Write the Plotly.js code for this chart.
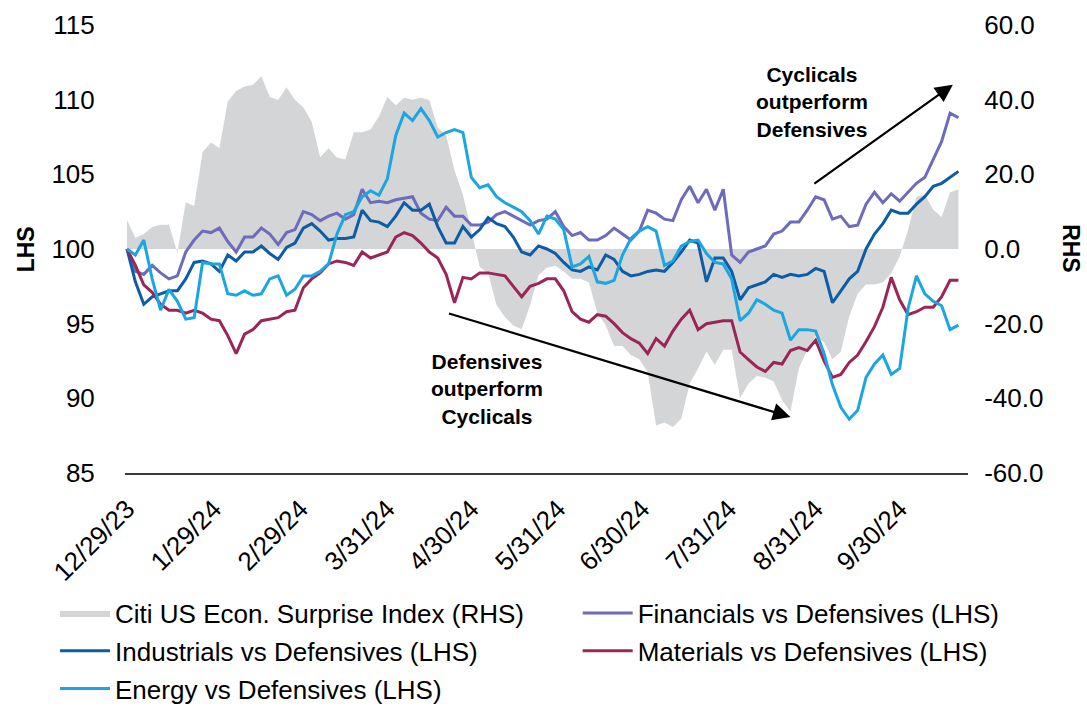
<!DOCTYPE html>
<html>
<head>
<meta charset="utf-8">
<script src="https://cdn.plot.ly/plotly-3.0.1.min.js"></script>
<style>html,body{margin:0;padding:0;background:#fff;}#chart{width:1087px;height:709px;}</style>
</head>
<body>
<div id="chart"></div>
<script>
const dates = ["2023-12-29","2024-01-01","2024-01-04","2024-01-07","2024-01-10","2024-01-13","2024-01-16","2024-01-19","2024-01-22","2024-01-25",
"2024-01-28","2024-01-31","2024-02-03","2024-02-06","2024-02-09","2024-02-12","2024-02-15","2024-02-18","2024-02-21","2024-02-24",
"2024-02-27","2024-03-01","2024-03-04","2024-03-07","2024-03-10","2024-03-13","2024-03-16","2024-03-19","2024-03-22","2024-03-25",
"2024-03-28","2024-03-31","2024-04-03","2024-04-06","2024-04-09","2024-04-12","2024-04-15","2024-04-18","2024-04-21","2024-04-24",
"2024-04-27","2024-04-30","2024-05-03","2024-05-06","2024-05-09","2024-05-12","2024-05-15","2024-05-18","2024-05-21","2024-05-24",
"2024-05-27","2024-05-30","2024-06-02","2024-06-05","2024-06-08","2024-06-11","2024-06-14","2024-06-17","2024-06-20","2024-06-23",
"2024-06-26","2024-06-29","2024-07-02","2024-07-05","2024-07-08","2024-07-11","2024-07-14","2024-07-17","2024-07-20","2024-07-23",
"2024-07-26","2024-07-29","2024-08-01","2024-08-04","2024-08-07","2024-08-10","2024-08-13","2024-08-16","2024-08-19","2024-08-22",
"2024-08-25","2024-08-28","2024-08-31","2024-09-03","2024-09-06","2024-09-09","2024-09-12","2024-09-15","2024-09-18","2024-09-21",
"2024-09-24","2024-09-27","2024-09-30","2024-10-03","2024-10-06","2024-10-09","2024-10-12","2024-10-15","2024-10-18","2024-10-21"];

const citiSurprise = [7.8,3,4,5.9,6.5,6.5,-1,12.5,11.5,26,
28.5,27,39.5,42.3,43.5,44,46.3,40.7,39.9,43.3,
40,38,34,24.6,27,24.5,24,31.3,31.3,32,
35.5,40.7,38.5,40.5,40,40.5,39.9,32.5,30.5,21,
14.5,5,-4.8,-6.5,-15,-18.2,-20.5,-21.5,-15,-7,
-5,-4.5,-6,-8,-8,-9,-17,-20.5,-26,-26,
-28.4,-29.5,-33,-47.3,-46.5,-47.7,-45.5,-36,-32,-27.5,
-31,-27,-27,-40,-36,-34,-34.5,-35.5,-40.5,-43.5,
-32,-27,-23.3,-25,-29.5,-27.5,-18,-12,-9.5,-9.5,
-9,-6.5,-2,5,14,14.5,10.5,8.6,15.2,16];

const financials = [100,98.5,98.3,98.9,98.4,98.0,98.2,99.8,100.6,101.2,
101.1,101.4,100.5,99.8,100.8,100.8,101.4,101.0,100.3,101.1,
101.3,102.5,102.3,101.9,102.2,102.4,102.0,102.3,104.0,103.1,
103.2,103.1,103.3,103.4,103.5,102.4,102.0,101.9,102.8,102.2,
102.2,101.6,101.6,101.8,102.3,102.5,102.2,101.9,101.6,101.9,
102.0,102.5,101.5,100.9,101.1,100.6,100.6,100.9,101.4,101.0,
100.6,101.2,102.6,102.4,102.0,101.9,103.3,104.2,103.1,104.0,
102.6,104.0,99.6,99.1,99.8,100.0,100.2,101.0,101.2,101.8,
101.8,102.6,103.5,103.3,102.0,102.2,101.5,101.6,103.0,103.8,
103.1,103.7,103.2,103.8,104.4,104.8,106.0,107.2,109.1,108.8];

const industrials = [100,97.8,96.3,96.8,97.0,97.2,97.2,98.0,99.1,99.2,
99.0,98.5,99.6,99.2,99.8,99.8,100.2,99.7,99.3,100.1,
100.4,101.4,101.7,101.2,100.6,100.7,100.7,100.8,102.6,101.9,
101.8,101.5,102.2,103.1,102.6,102.6,103.0,101.5,100.4,100.4,
101.5,100.8,101.3,102.1,101.7,101.5,100.8,99.8,99.6,100.2,
100.0,99.7,99.1,98.6,98.5,98.8,98.6,99.6,99.3,98.5,
98.2,98.3,98.5,98.6,98.5,99.1,99.8,100.6,100.4,97.8,
99.4,99.4,98.5,96.6,97.4,97.6,97.8,98.3,98.1,98.3,
98.2,98.3,98.7,98.5,96.4,97.2,98.0,98.5,100.0,101.0,
101.7,102.6,102.4,102.4,103.0,103.5,104.2,104.4,104.8,105.2];

const materials = [100,98.9,97.6,97.1,96.3,95.9,95.9,95.7,95.9,95.7,
95.3,95.2,94.2,93.0,94.3,94.6,95.2,95.3,95.4,95.8,
95.9,97.4,98.0,98.4,99.0,99.2,99.1,98.9,99.8,99.4,
99.6,99.8,100.8,101.1,100.9,100.4,99.8,99.4,98.3,96.4,
98.1,98.0,98.4,98.4,98.3,98.2,97.5,96.8,97.5,97.7,
98.0,98.0,97.2,95.8,95.3,95.1,95.6,95.5,95.0,94.4,
94.0,93.7,93.0,94.0,93.5,94.5,95.3,95.9,94.6,95.0,
95.1,95.2,95.2,93.1,92.6,92.1,91.8,92.4,92.3,93.2,
93.4,93.2,93.9,92.5,91.4,91.6,92.4,92.9,93.8,94.8,
96.1,98.1,96.6,95.6,95.8,96.1,96.1,96.8,97.9,97.9];

const energy = [100,99.6,100.6,98.0,95.9,97.3,96.5,95.3,95.4,99.1,
99.0,99.0,97.0,96.9,97.2,96.9,97.0,98.0,98.2,96.9,
97.3,98.2,98.2,98.5,99.0,101.0,102.3,102.5,103.5,103.9,
103.6,104.7,107.6,109.1,108.6,109.4,108.6,107.5,107.8,108.0,
107.8,104.8,104.1,104.3,103.5,103.1,102.8,102.5,101.9,101.0,
102.2,102.0,101.3,98.8,99.0,99.5,97.8,97.7,97.9,99.6,
100.7,101.2,101.5,101.2,98.9,99.2,100.2,100.5,100.6,99.7,
99.1,99.0,98.0,95.2,95.7,96.6,96.3,95.9,95.7,93.9,
94.6,94.6,94.5,93.0,90.9,89.4,88.6,89.2,91.4,92.3,
92.9,91.6,92.0,96.0,98.2,97.0,96.5,96.2,94.6,94.9];

const tickDates = ["2023-12-29","2024-01-29","2024-02-29","2024-03-31","2024-04-30","2024-05-31","2024-06-30","2024-07-31","2024-08-31","2024-09-30"];
const tickLabels = ["12/29/23","1/29/24","2/29/24","3/31/24","4/30/24","5/31/24","6/30/24","7/31/24","8/31/24","9/30/24"];
const lhsTicks = [85,90,95,100,105,110,115];
const rhsTicks = [-60,-40,-20,0,20,40,60];
const rhsLabels = ["-60.0","-40.0","-20.0","0.0","20.0","40.0","60.0"];

const FONT = 'Liberation Sans, Arial, Helvetica, sans-serif';
const FS = 26;
const lw = 3;

// primary y = RHS (drawn first, behind); y2 = LHS lines (overlaying, on top)
const traces = [
  {x:dates, y:citiSurprise, name:'Citi US Econ. Surprise Index (RHS)', type:'scatter', mode:'lines',
   fill:'tozeroy', fillcolor:'#d4d5d7', line:{width:0, color:'#d4d5d7'}, yaxis:'y', legend:'legend', legendgroup:'g1'},
  {x:dates, y:financials, name:'Financials vs Defensives (LHS)', type:'scatter', mode:'lines',
   line:{width:lw, color:'#6e6bbd'}, yaxis:'y2', legend:'legend2', legendgroup:'g2'},
  {x:dates, y:industrials, name:'Industrials vs Defensives (LHS)', type:'scatter', mode:'lines',
   line:{width:lw, color:'#0d5ca6'}, yaxis:'y2', legend:'legend', legendgroup:'g3'},
  {x:dates, y:materials, name:'Materials vs Defensives (LHS)', type:'scatter', mode:'lines',
   line:{width:lw, color:'#9c2558'}, yaxis:'y2', legend:'legend2', legendgroup:'g4'},
  {x:dates, y:energy, name:'Energy vs Defensives (LHS)', type:'scatter', mode:'lines',
   line:{width:lw, color:'#1aa6e0'}, yaxis:'y2', legend:'legend', legendgroup:'g5'}
];

const layout = {
  width:1087, height:709,
  margin:{l:125, r:119, t:25, b:236, pad:0, autoexpand:false},
  paper_bgcolor:'#ffffff', plot_bgcolor:'#ffffff',
  font:{family:FONT, size:FS, color:'#000'},
  showlegend:true,
  hovermode:false,
  xaxis:{type:'date', range:['2023-12-28 07:00','2024-10-24 10:00'],
    tickvals:tickDates, ticktext:tickLabels, tickangle:-45,
    showgrid:false, zeroline:false, showline:true, linecolor:'#3a3a3a', linewidth:1.5,
    ticks:'outside', ticklen:9, tickcolor:'rgba(0,0,0,0)', tickfont:{size:FS, family:FONT}},
  yaxis:{range:[-60,60], side:'right', tickvals:rhsTicks, ticktext:rhsLabels,
    showgrid:false, zeroline:false, showline:false,
    ticks:'outside', ticklen:10, tickcolor:'rgba(0,0,0,0)', tickfont:{size:FS, family:FONT}},
  yaxis2:{range:[85,115], overlaying:'y', side:'left', tickvals:lhsTicks,
    showgrid:false, zeroline:false, showline:false,
    ticks:'outside', ticklen:24, tickcolor:'rgba(0,0,0,0)', tickfont:{size:FS, family:FONT}},
  legend:{orientation:'v', x:-0.083, xanchor:'left', y:-0.26, yanchor:'top',
    bgcolor:'rgba(0,0,0,0)', font:{size:FS, family:FONT}, itemwidth:50, tracegroupgap:1},
  legend2:{orientation:'v', x:0.537, xanchor:'left', y:-0.26, yanchor:'top',
    bgcolor:'rgba(0,0,0,0)', font:{size:FS, family:FONT}, itemwidth:50, tracegroupgap:1},
  annotations:[
    {xref:'paper', yref:'paper', x:-0.117, y:0.5, text:'<b>LHS</b>', textangle:-90, showarrow:false,
     font:{size:23, family:FONT}, xanchor:'center', yanchor:'middle'},
    {xref:'paper', yref:'paper', x:1.122, y:0.5, text:'<b>RHS</b>', textangle:90, showarrow:false,
     font:{size:23, family:FONT}, xanchor:'center', yanchor:'middle'},
    {xref:'x', yref:'y2', x:'2024-08-29 14:00', y:109.85, text:'<b>Cyclicals<br>outperform<br>Defensives</b>',
     showarrow:false, font:{size:21, family:FONT}, align:'center', xanchor:'center', yanchor:'middle'},
    {xref:'x', yref:'y2', x:'2024-05-05 14:00', y:90.62, text:'<b>Defensives<br>outperform<br>Cyclicals</b>',
     showarrow:false, font:{size:21, family:FONT}, align:'center', xanchor:'center', yanchor:'middle'},
    {xref:'x', yref:'y2', x:'2024-08-22', y:88.75, ax:-343, ay:-104, text:'', showarrow:true,
     arrowhead:2, arrowsize:1.6, arrowwidth:2.2, arrowcolor:'#000', standoff:0},
    {xref:'x', yref:'y2', x:'2024-10-19', y:111.0, ax:-140, ay:100, text:'', showarrow:true,
     arrowhead:2, arrowsize:1.6, arrowwidth:2.2, arrowcolor:'#000', standoff:0}
  ]
};

Plotly.newPlot('chart', traces, layout, {displayModeBar:false, staticPlot:true});
</script>
</body>
</html>
